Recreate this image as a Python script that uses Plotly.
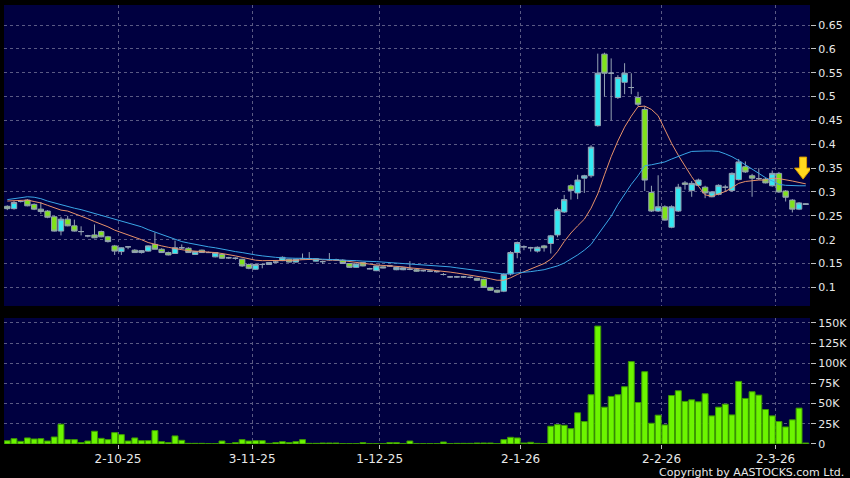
import pandas as pd
import plotly.graph_objects as go

# ---------------- data ----------------
closed_days = ["2025-10-01", "2025-10-07", "2025-10-29", "2025-11-20", "2025-12-25",
               "2025-12-26", "2026-01-01", "2026-02-17", "2026-02-18", "2026-02-19"]
dates = [d.strftime("%Y-%m-%d") for d in pd.bdate_range("2025-09-08", "2026-03-06")
         if d.strftime("%Y-%m-%d") not in closed_days]

open_ = [0.270, 0.265, 0.280, 0.283, 0.274, 0.264, 0.260, 0.248, 0.218, 0.243,
         0.229, 0.217, 0.208, 0.210, 0.217, 0.206, 0.187, 0.175, 0.185, 0.178,
         0.173, 0.176, 0.190, 0.180, 0.173, 0.171, 0.183, 0.182, 0.169, 0.178,
         0.173, 0.164, 0.169, 0.162, 0.161, 0.159, 0.148, 0.138, 0.148, 0.148,
         0.153, 0.156, 0.159, 0.153, 0.160, 0.160, 0.155, 0.154, 0.158, 0.158,
         0.157, 0.150, 0.142, 0.152, 0.139, 0.135, 0.143, 0.145, 0.137, 0.137,
         0.138, 0.137, 0.135, 0.134, 0.133, 0.127, 0.122, 0.122, 0.122, 0.121,
         0.119, 0.117, 0.100, 0.094, 0.092, 0.128, 0.173, 0.185, 0.183, 0.176,
         0.187, 0.192, 0.210, 0.258, 0.313, 0.298, 0.329, 0.334, 0.439, 0.589,
         0.549, 0.498, 0.530, 0.519, 0.498, 0.473, 0.299, 0.260, 0.269, 0.226,
         0.260, 0.319, 0.303, 0.314, 0.310, 0.290, 0.295, 0.310, 0.303, 0.326,
         0.353, 0.334, 0.328, 0.327, 0.313, 0.339, 0.302, 0.283, 0.264, 0.274]
high = [0.272, 0.281, 0.282, 0.285, 0.276, 0.279, 0.262, 0.250, 0.248, 0.250,
        0.242, 0.228, 0.210, 0.232, 0.219, 0.208, 0.189, 0.184, 0.186, 0.180,
        0.178, 0.188, 0.215, 0.182, 0.175, 0.198, 0.190, 0.184, 0.176, 0.179,
        0.175, 0.174, 0.171, 0.164, 0.163, 0.160, 0.150, 0.150, 0.150, 0.153,
        0.155, 0.165, 0.160, 0.160, 0.171, 0.174, 0.161, 0.156, 0.172, 0.160,
        0.159, 0.151, 0.150, 0.153, 0.141, 0.146, 0.144, 0.147, 0.143, 0.142,
        0.155, 0.139, 0.136, 0.136, 0.135, 0.130, 0.124, 0.124, 0.124, 0.123,
        0.120, 0.118, 0.101, 0.095, 0.130, 0.176, 0.196, 0.188, 0.185, 0.186,
        0.189, 0.210, 0.267, 0.294, 0.316, 0.336, 0.336, 0.398, 0.590, 0.592,
        0.580, 0.545, 0.570, 0.549, 0.510, 0.480, 0.313, 0.335, 0.272, 0.272,
        0.317, 0.323, 0.323, 0.328, 0.313, 0.302, 0.316, 0.315, 0.341, 0.369,
        0.364, 0.338, 0.350, 0.330, 0.345, 0.342, 0.304, 0.285, 0.279, 0.276]
low = [0.262, 0.263, 0.278, 0.270, 0.262, 0.254, 0.245, 0.217, 0.209, 0.228,
       0.217, 0.209, 0.205, 0.203, 0.205, 0.194, 0.168, 0.168, 0.180, 0.172,
       0.171, 0.175, 0.180, 0.172, 0.167, 0.170, 0.180, 0.172, 0.168, 0.172,
       0.172, 0.163, 0.160, 0.160, 0.158, 0.143, 0.138, 0.137, 0.140, 0.147,
       0.151, 0.155, 0.152, 0.152, 0.158, 0.158, 0.154, 0.149, 0.156, 0.156,
       0.149, 0.141, 0.141, 0.144, 0.138, 0.134, 0.140, 0.143, 0.136, 0.136,
       0.136, 0.133, 0.133, 0.132, 0.131, 0.125, 0.120, 0.120, 0.120, 0.119,
       0.114, 0.099, 0.093, 0.088, 0.090, 0.125, 0.161, 0.178, 0.175, 0.173,
       0.175, 0.171, 0.205, 0.256, 0.284, 0.285, 0.298, 0.330, 0.437, 0.500,
       0.450, 0.495, 0.505, 0.505, 0.480, 0.302, 0.258, 0.258, 0.240, 0.224,
       0.258, 0.305, 0.290, 0.312, 0.287, 0.289, 0.293, 0.300, 0.300, 0.324,
       0.340, 0.290, 0.325, 0.318, 0.311, 0.298, 0.280, 0.257, 0.262, 0.273]
close = [0.265, 0.278, 0.280, 0.271, 0.264, 0.259, 0.247, 0.218, 0.243, 0.229,
         0.218, 0.217, 0.208, 0.204, 0.206, 0.196, 0.176, 0.183, 0.185, 0.173,
         0.177, 0.187, 0.180, 0.173, 0.168, 0.183, 0.183, 0.173, 0.175, 0.173,
         0.173, 0.173, 0.161, 0.162, 0.161, 0.145, 0.140, 0.148, 0.148, 0.152,
         0.153, 0.163, 0.153, 0.159, 0.160, 0.160, 0.160, 0.154, 0.158, 0.158,
         0.150, 0.142, 0.149, 0.145, 0.139, 0.145, 0.141, 0.145, 0.142, 0.141,
         0.138, 0.134, 0.135, 0.134, 0.133, 0.127, 0.122, 0.122, 0.122, 0.121,
         0.115, 0.100, 0.094, 0.090, 0.127, 0.173, 0.194, 0.185, 0.183, 0.184,
         0.183, 0.208, 0.263, 0.284, 0.303, 0.325, 0.334, 0.394, 0.549, 0.549,
         0.549, 0.540, 0.549, 0.519, 0.484, 0.325, 0.260, 0.269, 0.241, 0.269,
         0.310, 0.316, 0.318, 0.325, 0.298, 0.300, 0.314, 0.310, 0.339, 0.363,
         0.342, 0.329, 0.328, 0.319, 0.339, 0.300, 0.289, 0.264, 0.277, 0.275]
volume = [4000, 6600, 3300, 7500, 6200, 6600, 3700, 8700, 24500, 5400,
          5400, 1700, 3700, 15800, 7000, 5400, 14100, 11600, 3700, 7500,
          4100, 4100, 16600, 2900, 1700, 10000, 4600, 800, 800, 800,
          400, 400, 3700, 400, 1700, 5400, 3700, 4100, 4100, 800,
          1700, 2900, 1700, 2900, 5400, 800, 800, 1200, 1200, 1200,
          400, 400, 400, 1700, 400, 400, 400, 1700, 1700, 400,
          3700, 400, 400, 400, 400, 2500, 400, 800, 800, 800,
          1200, 1200, 1200, 400, 5400, 8300, 7500, 1200, 2100, 800,
          400, 22000, 24000, 23200, 19000, 38600, 27800, 61000, 146000, 45600,
          58900, 61000, 70900, 102000, 51400, 89500, 25700, 35700, 23600, 60000,
          65900, 52700, 54700, 52200, 62200, 34800, 45600, 49300, 36000, 77500,
          56400, 64700, 60500, 42700, 34800, 27800, 21100, 29900, 44400, 1200]
ma10 = [0.281, 0.282, 0.283, 0.283, 0.280, 0.277, 0.272, 0.267, 0.262, 0.260,
        0.255, 0.250, 0.244, 0.238, 0.233, 0.227, 0.220, 0.215, 0.210, 0.206,
        0.200, 0.194, 0.190, 0.187, 0.184, 0.181, 0.179, 0.177, 0.176, 0.175,
        0.175, 0.173, 0.171, 0.169, 0.166, 0.163, 0.160, 0.157, 0.156, 0.156,
        0.156, 0.157, 0.156, 0.157, 0.158, 0.159, 0.159, 0.158, 0.158, 0.157,
        0.156, 0.154, 0.152, 0.150, 0.148, 0.147, 0.146, 0.145, 0.145, 0.143,
        0.141, 0.140, 0.139, 0.137, 0.135, 0.134, 0.132, 0.130, 0.128, 0.126,
        0.124, 0.121, 0.118, 0.115, 0.115, 0.120, 0.127, 0.133, 0.139, 0.144,
        0.150, 0.159, 0.175, 0.196, 0.214, 0.229, 0.243, 0.266, 0.296, 0.336,
        0.374, 0.407, 0.436, 0.459, 0.479, 0.480, 0.473, 0.460, 0.430, 0.402,
        0.377, 0.354, 0.332, 0.312, 0.294, 0.291, 0.296, 0.301, 0.309, 0.318,
        0.322, 0.324, 0.325, 0.325, 0.329, 0.328, 0.326, 0.323, 0.320, 0.317]
ma20 = [0.284, 0.286, 0.289, 0.290, 0.289, 0.286, 0.281, 0.277, 0.274, 0.270,
        0.266, 0.263, 0.259, 0.256, 0.252, 0.248, 0.243, 0.239, 0.235, 0.231,
        0.227, 0.221, 0.216, 0.210, 0.205, 0.200, 0.196, 0.193, 0.190, 0.187,
        0.185, 0.183, 0.180, 0.178, 0.175, 0.173, 0.170, 0.168, 0.166, 0.164,
        0.163, 0.162, 0.161, 0.161, 0.161, 0.161, 0.160, 0.159, 0.159, 0.158,
        0.157, 0.157, 0.156, 0.155, 0.155, 0.154, 0.153, 0.152, 0.151, 0.150,
        0.149, 0.149, 0.148, 0.147, 0.145, 0.144, 0.143, 0.141, 0.139, 0.137,
        0.135, 0.134, 0.132, 0.129, 0.128, 0.129, 0.130, 0.131, 0.133, 0.135,
        0.137, 0.141, 0.145, 0.151, 0.159, 0.168, 0.178, 0.190, 0.210, 0.229,
        0.249, 0.274, 0.296, 0.316, 0.334, 0.355, 0.357, 0.360, 0.363, 0.369,
        0.375, 0.380, 0.385, 0.386, 0.386, 0.386, 0.385, 0.380, 0.374, 0.366,
        0.357, 0.347, 0.338, 0.330, 0.323, 0.316, 0.314, 0.313, 0.313, 0.313]

tick_dates = ["2025-10-02", "2025-11-03", "2025-12-01", "2026-01-02", "2026-02-02", "2026-03-02"]
tick_labels = ["2-10-25", "3-11-25", "1-12-25", "2-1-26", "2-2-26", "2-3-26"]
price_ticks = [0.1, 0.15, 0.2, 0.25, 0.3, 0.35, 0.4, 0.45, 0.5, 0.55, 0.6, 0.65]
price_tick_labels = ["0.1", "0.15", "0.2", "0.25", "0.3", "0.35", "0.4", "0.45", "0.5", "0.55", "0.6", "0.65"]
vol_ticks = [0, 25000, 50000, 75000, 100000, 125000, 150000]
vol_tick_labels = ["0", "25K", "50K", "75K", "100K", "125K", "150K"]
signal_index = len(dates) - 1   # bar marked by the yellow arrow

# ---------------- figure ----------------
x = list(range(len(dates)))
grid_pos = [dates.index(d) - 0.5 for d in tick_dates]

BG = "#000040"
GRID = "#5a5a84"
TXT = "#e8e8e8"
FONT = "DejaVu Sans"

fig = go.Figure()
fig.add_trace(go.Candlestick(
    x=x, open=open_, high=high, low=low, close=close, customdata=dates,
    increasing=dict(fillcolor="#33e8f2", line=dict(color="#95a3b3", width=1)),
    decreasing=dict(fillcolor="#80e21c", line=dict(color="#95a3b3", width=1)),
    whiskerwidth=0, showlegend=False, xaxis="x", yaxis="y"))
fig.add_trace(go.Scatter(x=x, y=ma10, mode="lines", line=dict(color="#e8926a", width=1),
                         showlegend=False, xaxis="x", yaxis="y", hoverinfo="skip"))
fig.add_trace(go.Scatter(x=x, y=ma20, mode="lines", line=dict(color="#3aa6e6", width=1),
                         showlegend=False, xaxis="x", yaxis="y", hoverinfo="skip"))
fig.add_trace(go.Bar(x=x, y=volume, marker=dict(color="#6cf500", line=dict(color="#3c9a00", width=1)),
                     showlegend=False, xaxis="x2", yaxis="y2", customdata=dates))

xr = [-0.49, 119.63]
common_x = dict(range=xr, showgrid=True, gridcolor=GRID, griddash="3px,3px", gridwidth=1,
                tickvals=grid_pos, zeroline=False, showline=False, fixedrange=True)
fig.update_layout(
    width=850, height=478,
    margin=dict(l=4, r=40, t=5, b=34),
    paper_bgcolor="#000000", plot_bgcolor=BG,
    font=dict(family=FONT, size=11, color=TXT),
    bargap=0.12, boxgap=0.2, boxgroupgap=0,
    xaxis=dict(domain=[0, 1], anchor="y", showticklabels=False, ticks="",
               rangeslider=dict(visible=False), **common_x),
    xaxis2=dict(domain=[0, 1], anchor="y2", matches="x", ticktext=tick_labels,
                showticklabels=True, ticks="outside", ticklen=4, tickcolor="#c0c0c0",
                tickfont=dict(family=FONT, size=12, color=TXT), **common_x),
    yaxis=dict(domain=[0.3144, 1], side="right", range=[0.061, 0.692],
               tickvals=price_ticks, ticktext=price_tick_labels,
               ticks="outside", ticklen=5, tickcolor="#c0c0c0", automargin=False,
               showgrid=True, gridcolor=GRID, griddash="3px,3px", zeroline=False,
               tickfont=dict(family=FONT, size=11, color=TXT)),
    yaxis2=dict(domain=[0, 0.287], side="right", range=[0, 156000],
                tickvals=vol_ticks, ticktext=vol_tick_labels, automargin=False,
                ticks="outside", ticklen=5, tickcolor="#c0c0c0",
                showgrid=True, gridcolor=GRID, griddash="3px,3px", zeroline=False,
                tickfont=dict(family=FONT, size=11, color=TXT)),
)

# yellow down arrow above the latest bars (pixel-sized shape anchored at the signal bar)
fig.add_shape(type="path", xref="x", yref="y", xsizemode="pixel", ysizemode="pixel",
              xanchor=signal_index - 0.4, yanchor=ma10[signal_index] + 0.010,
              path="M -3.5 22 L 3.5 22 L 3.5 11 L 8.5 11 L 0 0 L -8.5 11 L -3.5 11 Z",
              fillcolor="#ffd81e", line=dict(color="#d89a00", width=1), layer="above")

fig.add_annotation(x=1, y=0, xref="paper", yref="paper", xanchor="right", yanchor="top",
                   yshift=-20, xshift=36, text="Copyright by AASTOCKS.com Ltd.", showarrow=False,
                   font=dict(family=FONT, size=11, color=TXT))

fig.write_html("out.html", config={"displayModeBar": False},
               post_script="document.body.style.margin='0';document.body.style.overflow='hidden';")
